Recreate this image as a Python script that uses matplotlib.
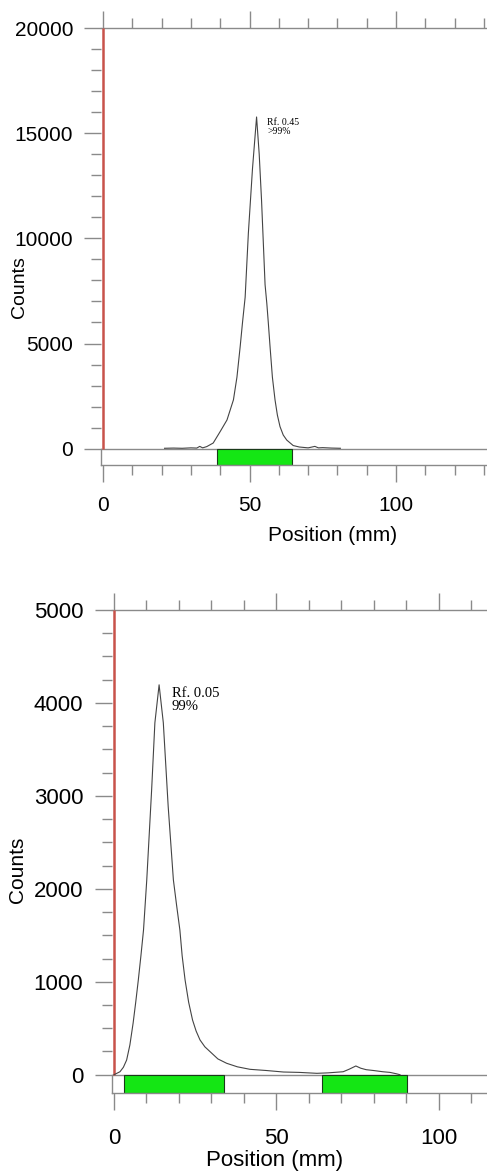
import matplotlib
matplotlib.use('Agg')
import matplotlib.pyplot as plt
from matplotlib.ticker import MultipleLocator

plt.rcParams['font.family'] = ['Liberation Sans', 'DejaVu Sans']

# top scan (Rf 0.45)
pos_a = [21, 24, 27, 30, 32, 33, 34, 35.4, 37.6, 40, 42.3, 44.5, 45.7, 46.8, 47.6,
         48.5, 49.6, 51, 52.4, 53.3, 54.1, 55.3, 55.9, 56.4, 57.0, 57.8, 58.7,
         59.5, 60.4, 61.5, 62.7, 64.9, 67, 70, 72.3, 73.5, 75, 78, 81]
cnt_a = [20, 30, 20, 40, 30, 110, 40, 100, 270, 820, 1365, 2320, 3400, 4850, 6000,
         7200, 10250, 13300, 15770, 14000, 11800, 7800, 6900, 6000, 4850, 3400, 2320,
         1600, 1050, 650, 410, 150, 80, 40, 110, 40, 50, 30, 20]
bands_a = [(38.9, 64.4)]
label_a = 'Rf. 0.45\n>99%'

# bottom scan (Rf 0.05)
pos_b = [0, 1.85, 2.9, 3.9, 4.9, 5.9, 6.7, 7.5, 8.3, 9.1, 10.1, 11.6, 12.6, 13.9,
         15.2, 16.7, 18.3, 19.3, 20.3, 21.0, 21.9, 23.0, 24.2, 25.3, 26.5, 28.0,
         29.6, 32.0, 34.7, 38.0, 41.9, 47, 52.2, 57, 62.5, 66, 70.6, 72.5, 74.5,
         76, 77.7, 80, 82.8, 85, 87.0, 88.1]
cnt_b = [0, 32, 80, 158, 320, 556, 780, 1020, 1280, 1557, 2096, 3065, 3786, 4195,
         3786, 2885, 2096, 1820, 1557, 1280, 1020, 780, 589, 470, 374, 300,
         248, 170, 123, 85, 58, 45, 29, 25, 15, 20, 32, 60, 94,
         70, 54, 45, 32, 25, 10, 0]
bands_b = [(3.1, 33.8), (64.1, 90.4)]
label_b = 'Rf. 0.05\n99%'

GRAY = '#8a8a8a'
RED = '#c8524a'
GREEN = '#14e614'

fig = plt.figure(figsize=(4.87, 11.72), dpi=100)


def panel(rect, x, y, bands, xlim, ylim, ymaj, ymin, note, note_xy, note_fs,
          fs, xpad, ypad, xlab_xy, ylab_xy):
    ax = fig.add_axes(rect)
    ax.set_xlim(*xlim)
    ax.set_ylim(*ylim)
    for a, b in bands:
        ax.bar(a, -ylim[0], width=b - a, bottom=ylim[0], align='edge',
               color=GREEN, edgecolor='#1a3a1a', linewidth=0.8, zorder=2)
    ax.axhline(0, color=GRAY, lw=1.0, zorder=1)
    ax.vlines(0, 0, ylim[1], color=RED, lw=1.8, zorder=3)
    ax.plot(x, y, color='#444444', lw=0.8, zorder=4)
    ax.text(note_xy[0], note_xy[1], note, family='Liberation Serif',
            fontsize=note_fs, va='top', ha='left', linespacing=0.95)

    ax.spines['right'].set_visible(False)
    ax.spines['left'].set_bounds(ylim[0], 0)
    for s in ('top', 'bottom', 'left'):
        ax.spines[s].set_color(GRAY)
        ax.spines[s].set_linewidth(1.0)

    ax.xaxis.set_major_locator(MultipleLocator(50))
    ax.xaxis.set_minor_locator(MultipleLocator(10))
    ax.yaxis.set_major_locator(MultipleLocator(ymaj))
    ax.yaxis.set_minor_locator(MultipleLocator(ymin))
    ax.set_yticks([v for v in ax.get_yticks() if v >= 0])
    ax.set_ylim(*ylim)
    ax.tick_params(axis='x', which='both', direction='out', top=True,
                   bottom=True, color=GRAY, width=1.0, labelsize=fs, pad=xpad)
    ax.tick_params(axis='y', which='both', direction='out', left=True,
                   right=False, color=GRAY, width=1.0, labelsize=fs, pad=ypad)
    ax.tick_params(which='major', length=12)
    ax.tick_params(which='minor', length=7.5)

    ax.set_xlabel('Position (mm)', fontsize=fs)
    ax.set_ylabel('Counts', fontsize=fs - 1)
    ax.xaxis.set_label_coords(*xlab_xy)
    ax.yaxis.set_label_coords(*ylab_xy)
    return ax


panel([101 / 487, 1 - 465 / 1172, 386 / 487, 437 / 1172], pos_a, cnt_a, bands_a,
      (-0.7, 131.05), (-775, 20000), 5000, 1000, label_a, (56, 15700), 7,
      15, 10, 8, (0.601, -0.14), (-0.19, 0.407))

panel([111.7 / 487, 1 - 1093.3 / 1172, 375.3 / 487, 483.3 / 1172], pos_b, cnt_b,
      bands_b, (-0.7, 114.9), (-200, 5000), 1000, 250, label_b, (17.8, 4170), 10.5,
      16, 13, 8.5, (0.435, -0.118), (-0.226, 0.462))

fig.savefig('out.png', dpi=100, facecolor='white')
